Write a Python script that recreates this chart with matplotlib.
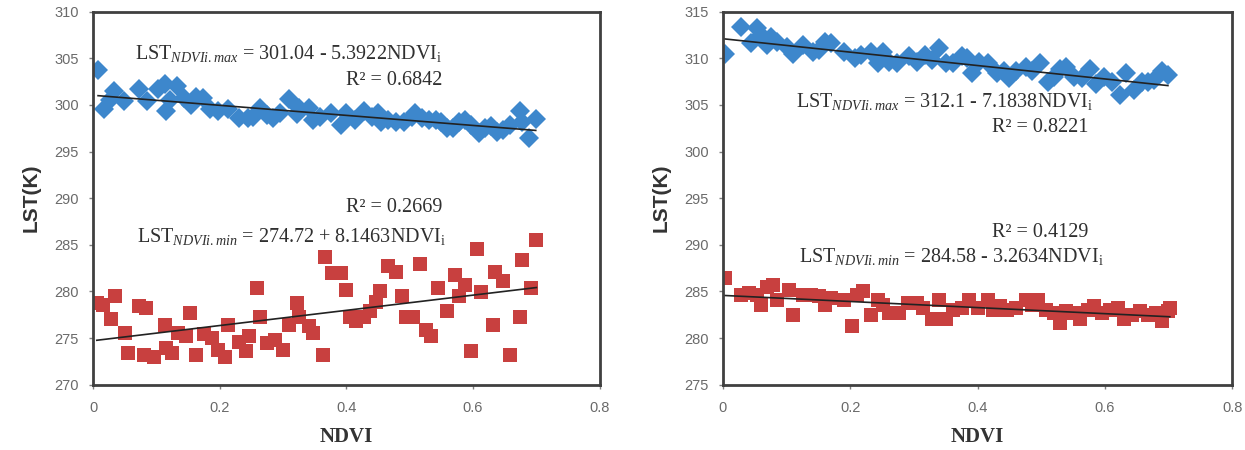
import matplotlib
matplotlib.use("Agg")
import matplotlib.pyplot as plt
import numpy as np

plt.rcParams['mathtext.fontset'] = 'custom'
plt.rcParams['mathtext.rm'] = 'Liberation Serif'
plt.rcParams['mathtext.it'] = 'Liberation Serif:italic'

# ---- left panel, max series (blue diamonds)
ndvi_a_max = [0.008, 0.018, 0.027, 0.033, 0.049, 0.072, 0.086, 0.103, 0.113, 0.116,
              0.122, 0.133, 0.144, 0.154, 0.163, 0.174, 0.184, 0.197, 0.213, 0.231,
              0.244, 0.253, 0.263, 0.275, 0.284, 0.295, 0.309, 0.322, 0.326, 0.341,
              0.347, 0.359, 0.375, 0.391, 0.400, 0.413, 0.428, 0.441, 0.450, 0.455,
              0.466, 0.478, 0.491, 0.503, 0.509, 0.519, 0.531, 0.541, 0.550, 0.559,
              0.569, 0.578, 0.588, 0.597, 0.609, 0.619, 0.628, 0.638, 0.647, 0.659,
              0.674, 0.678, 0.688, 0.699]
lst_a_max = [303.7, 299.6, 300.5, 301.5, 300.4, 301.7, 300.4, 301.7, 302.2, 299.4,
             300.5, 302.0, 300.7, 300.0, 300.9, 300.8, 299.6, 299.3, 299.6, 298.6,
             298.6, 298.75, 299.7, 298.9, 298.6, 299.1, 300.6, 299.0, 299.7, 299.7,
             298.4, 298.75, 299.1, 297.9, 299.1, 298.4, 299.3, 298.75, 299.1, 298.2,
             298.4, 298.2, 298.2, 298.75, 299.1, 298.6, 298.4, 298.4, 298.2, 297.5,
             297.5, 298.2, 298.4, 297.9, 297.0, 297.5, 297.7, 297.1, 297.3, 297.9,
             299.3, 298.2, 296.5, 298.5]

# ---- left panel, min series (red squares)
ndvi_a_min = [0.006, 0.016, 0.028, 0.034, 0.050, 0.056, 0.072, 0.084, 0.081, 0.097,
              0.113, 0.116, 0.125, 0.134, 0.147, 0.153, 0.163, 0.175, 0.188, 0.197,
              0.209, 0.213, 0.231, 0.241, 0.247, 0.259, 0.263, 0.275, 0.288, 0.300,
              0.309, 0.322, 0.325, 0.341, 0.347, 0.363, 0.366, 0.378, 0.391, 0.400,
              0.406, 0.416, 0.428, 0.438, 0.447, 0.453, 0.466, 0.478, 0.488, 0.494,
              0.506, 0.516, 0.525, 0.534, 0.544, 0.559, 0.572, 0.578, 0.588, 0.597,
              0.606, 0.613, 0.631, 0.634, 0.647, 0.659, 0.674, 0.678, 0.691, 0.700]
lst_a_min = [278.8, 278.6, 277.1, 279.5, 275.5, 273.4, 278.4, 278.2, 273.2, 273.0,
             276.4, 273.9, 273.4, 275.5, 275.2, 277.7, 273.2, 275.4, 275.0, 273.75,
             273.0, 276.4, 274.6, 273.6, 275.2, 280.4, 277.3, 274.5, 274.8, 273.75,
             276.4, 278.75, 277.3, 276.25, 275.5, 273.2, 283.75, 282.0, 282.0, 280.2,
             277.3, 276.8, 277.3, 277.9, 278.9, 280.0, 282.7, 282.1, 279.5, 277.3,
             277.3, 283.0, 275.9, 275.2, 280.4, 277.9, 281.8, 279.5, 280.7, 273.6,
             284.6, 279.9, 276.4, 282.1, 281.1, 273.2, 277.3, 283.4, 280.4, 285.5]

# ---- right panel, max series
ndvi_b_max = [0.003, 0.028, 0.044, 0.054, 0.060, 0.069, 0.076, 0.085, 0.101, 0.110,
              0.126, 0.142, 0.151, 0.161, 0.170, 0.190, 0.208, 0.217, 0.233, 0.243,
              0.252, 0.261, 0.274, 0.293, 0.305, 0.318, 0.328, 0.340, 0.350, 0.362,
              0.375, 0.384, 0.391, 0.403, 0.416, 0.431, 0.441, 0.450, 0.460, 0.476,
              0.485, 0.498, 0.510, 0.520, 0.529, 0.539, 0.551, 0.564, 0.576, 0.586,
              0.598, 0.611, 0.624, 0.633, 0.646, 0.658, 0.668, 0.677, 0.690, 0.699]
lst_b_max = [310.5, 313.4, 311.6, 313.2, 312.5, 311.4, 312.3, 311.8, 311.25, 310.5,
             311.4, 310.7, 310.9, 311.8, 311.6, 310.7, 310.0, 310.4, 310.7, 309.5,
             310.7, 309.6, 309.5, 310.2, 309.6, 310.4, 309.8, 311.1, 309.5, 309.5,
             310.2, 310.0, 308.4, 309.6, 309.5, 308.4, 308.6, 307.9, 308.6, 309.1,
             308.6, 309.5, 307.5, 308.0, 308.9, 309.1, 308.0, 307.9, 308.9, 307.3,
             308.0, 307.5, 306.1, 308.4, 306.6, 307.5, 307.5, 307.7, 308.6, 308.2]

# ---- right panel, min series
ndvi_b_min = [0.003, 0.028, 0.041, 0.054, 0.060, 0.069, 0.079, 0.085, 0.104, 0.110,
              0.126, 0.139, 0.151, 0.161, 0.170, 0.190, 0.202, 0.211, 0.220, 0.233,
              0.243, 0.252, 0.261, 0.277, 0.290, 0.305, 0.315, 0.328, 0.340, 0.350,
              0.362, 0.375, 0.387, 0.400, 0.416, 0.425, 0.435, 0.447, 0.460, 0.476,
              0.485, 0.495, 0.507, 0.520, 0.529, 0.539, 0.551, 0.561, 0.573, 0.583,
              0.595, 0.608, 0.620, 0.630, 0.643, 0.655, 0.668, 0.680, 0.690, 0.699, 0.702]
lst_b_min = [286.4, 284.6, 284.8, 284.6, 283.6, 285.5, 285.7, 284.1, 285.2, 282.5,
             284.6, 284.6, 284.5, 283.6, 284.3, 284.1, 281.25, 284.6, 285.0, 282.5,
             284.1, 283.6, 282.7, 282.7, 283.75, 283.75, 283.2, 282.1, 284.1, 282.1,
             283.0, 283.2, 284.1, 283.2, 284.1, 283.0, 283.4, 283.0, 283.2, 284.1,
             283.6, 284.1, 283.0, 282.7, 281.6, 282.9, 282.7, 282.0, 283.0, 283.4,
             282.7, 283.0, 283.2, 282.1, 282.5, 282.9, 282.5, 282.7, 281.8, 282.9, 283.2]

# fitted lines (intercept, slope) and R^2 as printed on the chart
fit_a_max = (301.04, -5.3922)
fit_a_min = (274.72, 8.1463)
fit_b_max = (312.1, -7.1838)
fit_b_min = (284.58, -3.2634)
r2_a = ("0.6842", "0.2669")
r2_b = ("0.8221", "0.4129")

xticks = [0, 0.2, 0.4, 0.6, 0.8]
xtick_labels = ["0", "0.2", "0.4", "0.6", "0.8"]

blue = "#3d87cc"
red = "#c8403f"
txt_col = "#303030"
serif = "Liberation Serif"


def eq_text(kind, fit):
    b0, b1 = fit
    sign = "-" if b1 < 0 else "+"
    return (r"LST$_{\mathit{NDVIi.%s}}$ = %s %s %sNDVI$_{\mathrm{i}}$"
            % (kind, f"{b0:g}", sign, f"{abs(b1):g}"))


def panel(ax, xmax, ymax, xmin, ymin, fmax, fmin, r2, ylim, txtpos):
    ax.plot(xmax, ymax, linestyle="none", marker="D", markersize=10.5,
            color=blue, markeredgewidth=0)
    ax.plot(xmin, ymin, linestyle="none", marker="s", markersize=9.5,
            color=red, markeredgewidth=0)
    for xs, f in ((xmax, fmax), (xmin, fmin)):
        xx = np.array([min(xs), max(xs)])
        ax.plot(xx, f[0] + f[1] * xx, color="#222222", linewidth=1.2)
    ax.set_xlim(0, 0.8)
    ax.set_ylim(*ylim)
    ax.set_xticks(xticks)
    ax.set_xticklabels(xtick_labels)
    ax.set_yticks(np.arange(ylim[0], ylim[1] + 1, 5))
    for s in ax.spines.values():
        s.set_linewidth(2)
        s.set_color("#404040")
    ax.tick_params(direction="out", length=3, width=1, color="#808080",
                   labelcolor="#6a6a6a", labelsize=10.5)
    ax.tick_params(axis="x", pad=9)
    ax.tick_params(axis="y", pad=7)
    for lab in ax.get_xticklabels() + ax.get_yticklabels():
        lab.set_family("Liberation Sans")
    ax.set_xlabel("NDVI", family=serif, fontweight="bold", fontsize=15,
                  color="#333333", labelpad=8)
    ax.set_ylabel("LST(K)", family="Liberation Sans", fontweight="bold",
                  fontsize=15, color="#333333", labelpad=10)
    (e1, r1, r2p, e2) = txtpos
    kw = dict(family=serif, fontsize=14.5, color=txt_col, va="center")
    ax.text(e1[0], e1[1], eq_text("max", fmax), **kw)
    ax.text(r1[0], r1[1], "R² = " + r2[0], **kw)
    ax.text(r2p[0], r2p[1], "R² = " + r2[1], **kw)
    ax.text(e2[0], e2[1], eq_text("min", fmin), **kw)


fig = plt.figure(figsize=(12.45, 4.5), dpi=100)
ax1 = fig.add_axes([0.0747, 0.145, 0.407, 0.829])
ax2 = fig.add_axes([0.5807, 0.145, 0.409, 0.829])

panel(ax1, ndvi_a_max, lst_a_max, ndvi_a_min, lst_a_min, fit_a_max, fit_a_min,
      r2_a, (270, 310),
      ((0.067, 305.5), (0.40, 302.6), (0.40, 289.0), (0.070, 285.9)))
panel(ax2, ndvi_b_max, lst_b_max, ndvi_b_min, lst_b_min, fit_b_max, fit_b_min,
      r2_b, (275, 315),
      ((0.114, 305.4), (0.423, 302.6), (0.423, 291.3), (0.119, 288.8)))

fig.savefig("out.png", dpi=100)
